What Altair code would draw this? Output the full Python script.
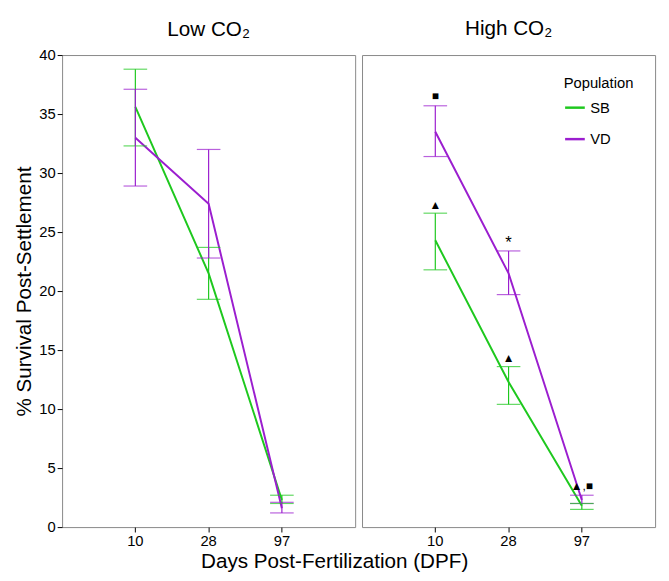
import altair as alt
import pandas as pd

days = ["10", "28", "97"]
low_sb = [35.6, 21.5, 2.3]
low_sb_lo = [32.3, 19.3, 2.0]
low_sb_hi = [38.8, 23.7, 2.7]
low_vd = [33.0, 27.4, 1.6]
low_vd_lo = [28.9, 22.8, 1.2]
low_vd_hi = [37.1, 32.0, 2.1]
high_sb = [24.3, 12.3, 1.8]
high_sb_lo = [21.8, 10.4, 1.5]
high_sb_hi = [26.6, 13.6, 2.0]
high_vd = [33.5, 21.5, 2.3]
high_vd_lo = [31.4, 19.7, 2.0]
high_vd_hi = [35.7, 23.4, 2.7]

marks_day = ["10", "10", "28", "28", "97"]
marks_y = [36.5, 27.3, 24.1, 14.3, 3.5]
marks_txt = ["■", "▲", "*", "▲", "    ▲,■"]
marks_size = [12, 12, 17, 12, 12]

colors = alt.Scale(domain=["SB", "VD"], range=["#1ec81e", "#9b1ecf"])
FONT = "Liberation Sans"
YTITLE = "% Survival Post-Settlement"


def frame(sb, sb_lo, sb_hi, vd, vd_lo, vd_hi):
    rows = []
    for pop, m, lo, hi in [("SB", sb, sb_lo, sb_hi), ("VD", vd, vd_lo, vd_hi)]:
        for d, a, b, c in zip(days, m, lo, hi):
            rows.append({"day": d, "pop": pop, "mean": a, "lo": b, "hi": c})
    return pd.DataFrame(rows)


def panel(df, title, legend, show_y):
    x = alt.X("day:N", sort=days, title=None,
              scale=alt.Scale(paddingOuter=0.5),
              axis=alt.Axis(labelAngle=0, labelFontSize=15, labelFont=FONT,
                            tickColor="black", domain=False, labelColor="black"))
    if show_y:
        yaxis = alt.Axis(values=list(range(0, 41, 5)), grid=False, domain=False,
                         labelFontSize=15, labelFont=FONT, titleFontSize=21,
                         titleFont=FONT, titleFontWeight="normal", labelColor="black",
                         titleColor="black", tickColor="black")
    else:
        yaxis = None
    ytitle = YTITLE if show_y else None
    y = alt.Y("mean:Q", title=ytitle, scale=alt.Scale(domain=[0, 40]), axis=yaxis)
    color = alt.Color("pop:N", scale=colors, title="Population",
                      legend=alt.Legend(orient="top-right", symbolType="stroke",
                                        symbolStrokeWidth=2.5, labelFontSize=15,
                                        titleFontSize=15, titleFontWeight="normal",
                                        labelFont=FONT, titleFont=FONT, padding=4,
                                        rowPadding=12, symbolSize=400) if legend else None)
    base = alt.Chart(df)
    line = base.mark_line(strokeWidth=2).encode(x=x, y=y, color=color)
    err = base.mark_errorbar(ticks=alt.TickConfig(size=24, thickness=1.2), thickness=1.2).encode(
        x=x, y=alt.Y("lo:Q", title=ytitle, axis=yaxis), y2="hi:Q",
        color=alt.Color("pop:N", scale=colors, legend=None))
    return (line + err).properties(width=298, height=480, title=alt.TitleParams(
        title, fontSize=21, font=FONT, fontWeight="normal", frame="group",
        offset=8 if show_y else 16))


left = panel(frame(low_sb, low_sb_lo, low_sb_hi, low_vd, low_vd_lo, low_vd_hi), "Low CO₂", False, True)
right = panel(frame(high_sb, high_sb_lo, high_sb_hi, high_vd, high_vd_lo, high_vd_hi), "High CO₂", True, False)

ann = alt.Chart(pd.DataFrame({"day": marks_day, "y": marks_y, "t": marks_txt, "s": marks_size})).mark_text(
    font=FONT, color="black", align="center").encode(
    x=alt.X("day:N", sort=days), y=alt.Y("y:Q"), text="t:N",
    size=alt.Size("s:Q", scale=None, legend=None))
right = right + ann

chart = alt.hconcat(left, right, spacing=5).resolve_scale(color="independent").properties(
    title=alt.TitleParams("Days Post-Fertilization (DPF)", orient="bottom", anchor="middle",
                          fontSize=21, font=FONT, fontWeight="normal", offset=2)
).configure_view(stroke="#888888").configure_concat(spacing=5)

chart.save("out.html", embed_options={"renderer": "svg", "actions": False})
